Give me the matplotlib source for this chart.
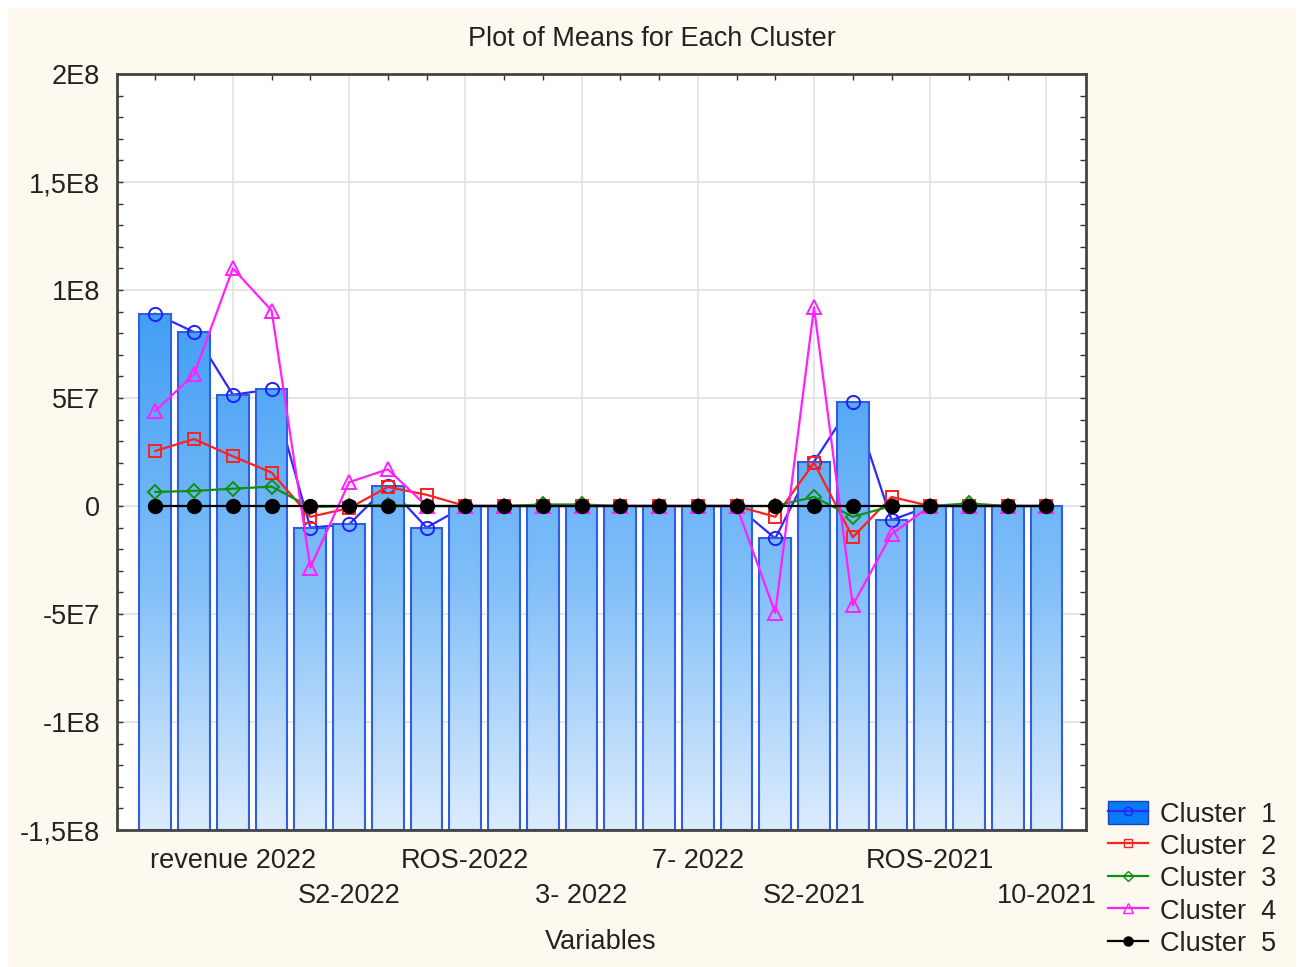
import numpy as np
import matplotlib
matplotlib.use('Agg')
import matplotlib.pyplot as plt
from matplotlib.patches import Rectangle, Patch
from matplotlib.lines import Line2D
from matplotlib.colors import LinearSegmentedColormap
from matplotlib.legend_handler import HandlerTuple
from matplotlib.ticker import MultipleLocator, FixedLocator

plt.rcParams['font.family'] = ['Liberation Sans', 'DejaVu Sans']

# means per variable (24 variables)
cluster1 = [8.9e7, 8.05e7, 5.15e7, 5.4e7, -1.0e7, -0.85e7, 0.93e7, -1.0e7,
            0, 0, 0, 0, 0, 0, 0, 0,
            -1.5e7, 2.05e7, 4.8e7, -0.65e7, 0, 0, 0, 0]
cluster2 = [2.55e7, 3.1e7, 2.3e7, 1.55e7, -0.5e7, -0.1e7, 0.88e7, 0.52e7,
            0, 0, 0, 0, 0, 0, 0, 0,
            -0.5e7, 2.0e7, -1.45e7, 0.42e7, 0, 0, 0, 0]
cluster3 = [0.65e7, 0.7e7, 0.8e7, 0.9e7, -0.05e7, 0, 0.05e7, 0,
            0, 0, 0.07e7, 0.07e7, 0, 0, 0, 0,
            0, 0.42e7, -0.5e7, 0, 0, 0.12e7, 0, 0]
cluster4 = [4.4e7, 6.1e7, 1.1e8, 9.05e7, -2.85e7, 1.1e7, 1.7e7, 0,
            0, 0, 0, 0, 0, 0, 0, 0,
            -4.95e7, 9.2e7, -4.6e7, -1.3e7, 0, 0, 0, 0]
cluster5 = [0] * 24

tick_pos = [2, 5, 8, 11, 14, 17, 20, 23]
tick_labels = ['revenue 2022', 'S2-2022', 'ROS-2022', '3- 2022',
               '7- 2022', 'S2-2021', 'ROS-2021', '10-2021']
y_ticks = [-1.5e8, -1e8, -5e7, 0, 5e7, 1e8, 1.5e8, 2e8]
y_labels = ['-1,5E8', '-1E8', '-5E7', '0', '5E7', '1E8', '1,5E8', '2E8']
series_names = ['Cluster  1', 'Cluster  2', 'Cluster  3', 'Cluster  4', 'Cluster  5']

x = np.arange(len(cluster1))
ymin, ymax = -1.5e8, 2e8
fs = 19.5
txt = '#222222'

fig = plt.figure(figsize=(13.02, 9.67), dpi=100, facecolor='white')
fig.patches.append(Rectangle((8 / 1302, 0), 1287 / 1302, 959 / 967,
                             transform=fig.transFigure, color='#fdf9ee', zorder=-10))
ax = fig.add_axes([117 / 1302, 1 - 830 / 967, 969 / 1302, 756 / 967])
ax.set_facecolor('white')

# bars for cluster 1, standing on the bottom of the axis, with a vertical gradient
cmap = LinearSegmentedColormap.from_list('bar', ['#dcecfd', '#80bef8', '#45a0f5', '#2a8cf0'])
grad = np.linspace(0, 1, 256).reshape(-1, 1)
bars = ax.bar(x, np.array(cluster1) - ymin, bottom=ymin, width=0.82,
              facecolor='none', edgecolor='#2f5fe0', linewidth=1.5, zorder=2)
for b in bars:
    im = ax.imshow(grad, cmap=cmap, origin='lower', aspect='auto',
                   extent=[b.get_x(), b.get_x() + b.get_width(), ymin, ymax], zorder=1.5)
    im.set_clip_path(b)

lw = 1.6
ax.plot(x, cluster1, color='#2b2bff', lw=lw, zorder=1)
ax.plot(x, cluster1, ls='none', marker='o', ms=9.5, mfc='none', mec='#2020ff', mew=1.4, zorder=4)
ax.plot(x, cluster2, color='#ff2020', lw=lw, marker='s', ms=8.5, mfc='none', mew=1.4, zorder=4)
ax.plot(x, cluster3, color='#109010', lw=lw, marker='D', ms=7, mfc='none', mew=1.4, zorder=4)
ax.plot(x, cluster4, color='#ff20ff', lw=lw, marker='^', ms=10, mfc='none', mew=1.4, zorder=4)
ax.plot(x, cluster5, color='black', lw=lw, marker='o', ms=10, zorder=5)

ax.set_xlim(-0.99, 24.02)
ax.set_ylim(ymin, ymax)

ax.set_yticks(y_ticks)
ax.set_yticklabels(y_labels)
ax.yaxis.set_minor_locator(MultipleLocator(1e7))
ax.set_xticks(tick_pos)
ax.set_xticklabels(tick_labels)
ax.xaxis.set_minor_locator(FixedLocator(x))

ax.tick_params(which='both', direction='in', top=True, right=True, colors='#333333',
               labelcolor=txt, labelsize=fs)
ax.tick_params(axis='y', which='major', length=4, width=1, pad=12)
ax.tick_params(axis='y', which='minor', length=4, width=1)
ax.tick_params(axis='x', which='major', length=0, pad=13)
ax.tick_params(axis='x', which='minor', length=4, width=1)
# staggered category labels: every second one on a lower row
for i, tick in enumerate(ax.xaxis.get_major_ticks()):
    if i % 2:
        tick.set_pad(38)
ax.grid(True, which='major', color='#e2e2e2', lw=1.2, zorder=0)
ax.set_axisbelow(True)
for s in ax.spines.values():
    s.set_color('#444444')
    s.set_linewidth(2)

fig.text(652 / 1302, 1 - 39 / 967, 'Plot of Means for Each Cluster', ha='center', va='center',
         fontsize=fs, color=txt)
fig.text(601 / 1302, 1 - 942 / 967, 'Variables', ha='center', va='center', fontsize=fs, color=txt)

# legend
h1 = (Patch(facecolor='#0a7af5', edgecolor='#2040c0'),
      Line2D([], [], color='#2b2bff', lw=lw, marker='o', ms=6, mfc='none', mec='#2020ff'))
h2 = Line2D([], [], color='#ff2020', lw=lw, marker='s', ms=6, mfc='none')
h3 = Line2D([], [], color='#109010', lw=lw, marker='D', ms=5, mfc='none')
h4 = Line2D([], [], color='#ff20ff', lw=lw, marker='^', ms=6.5, mfc='none')
h5 = Line2D([], [], color='black', lw=lw, marker='o', ms=6.5)
fig.legend([h1, h2, h3, h4, h5], series_names, loc='upper left',
           bbox_to_anchor=(1094 / 1302, 1 - 787 / 967), frameon=False, fontsize=fs,
           handlelength=1.5, handleheight=0.95, handletextpad=0.45, labelspacing=0.2,
           borderpad=0, handler_map={tuple: HandlerTuple(ndivide=1)}, labelcolor=txt)

fig.savefig('out.png', dpi=100, facecolor=fig.get_facecolor())
